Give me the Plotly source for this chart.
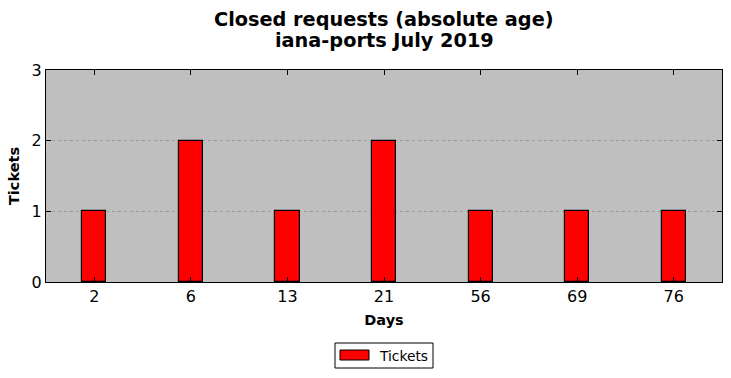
import plotly.graph_objects as go

days = ["2", "6", "13", "21", "56", "69", "76"]
tickets = [1, 2, 1, 2, 1, 1, 1]
title_lines = ["Closed requests (absolute age)", "iana-ports July 2019"]

W, H = 731, 378
L, R, T, B = 46, 9, 70, 96
PW, PH = W - L - R, H - T - B


def px(x):
    return (x - L) / PW


def py(y):
    return (H - B - y) / PH


fig = go.Figure()
fig.add_trace(go.Bar(
    x=days, y=tickets, name="Tickets", width=0.25,
    marker=dict(color="#ff0000", line=dict(color="black", width=1.2)),
    showlegend=False,
))

font = "DejaVu Sans"
fig.update_layout(
    width=W, height=H,
    margin=dict(l=L, r=R, t=T, b=B, autoexpand=False),
    paper_bgcolor="white", plot_bgcolor="#bfbfbf",
    font=dict(family=font, color="black"),
    showlegend=False,
    bargap=0,
)
# title (two lines)
for line, yc in zip(title_lines, [19, 41]):
    fig.add_annotation(
        text="<b>%s</b>" % line,
        xref="paper", yref="paper", x=0.5, y=py(yc), xanchor="center", yanchor="middle",
        showarrow=False, font=dict(size=19.3, family=font),
    )
# legend (drawn manually)
fig.add_shape(type="rect", xref="paper", yref="paper",
              x0=px(335), x1=px(433), y0=py(343), y1=py(368),
              line=dict(color="black", width=1), fillcolor="white")
fig.add_shape(type="rect", xref="paper", yref="paper",
              x0=px(340), x1=px(369), y0=py(350), y1=py(360),
              line=dict(color="black", width=1), fillcolor="#ff0000")
fig.add_annotation(
    text="Tickets", xref="paper", yref="paper", x=px(377), y=py(355.5),
    xanchor="left", yanchor="middle", showarrow=False,
    font=dict(size=13.8, family=font),
)
fig.update_xaxes(
    type="category", range=[-0.5, 6.5],
    title=dict(text="<b>Days</b>", font=dict(size=14.5, family=font), standoff=9),
    tickfont=dict(size=16, family=font),
    ticks="inside", ticklen=5, tickcolor="black",
    showline=True, linecolor="black", linewidth=1.3, mirror="allticks",
    showgrid=False, zeroline=False, automargin=False,
)
fig.update_yaxes(
    range=[0, 3], dtick=1,
    title=dict(text="<b>Tickets</b>", font=dict(size=14.5, family=font), standoff=8),
    tickfont=dict(size=16, family=font),
    ticks="inside", ticklen=5, tickcolor="black",
    showline=True, linecolor="black", linewidth=1.3, mirror="allticks",
    showgrid=True, gridcolor="#9a9a9a", griddash="dot", gridwidth=1,
    zeroline=False, automargin=False,
)
fig.write_html("out.html")
